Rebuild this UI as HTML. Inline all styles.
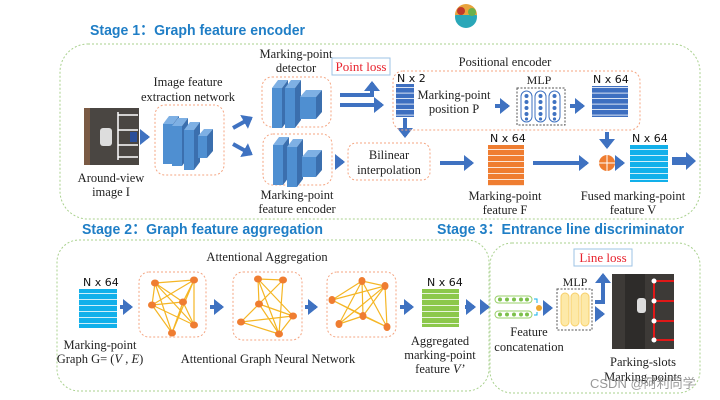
<!DOCTYPE html>
<html><head><meta charset="utf-8"><style>
html,body{margin:0;padding:0;background:#fff;}
svg{display:block;}
.t{font-family:"Liberation Serif",serif;font-size:12.5px;fill:#222;text-anchor:middle;}
.s{font-family:"Liberation Sans","Noto Sans CJK SC",sans-serif;font-size:14.5px;font-weight:bold;fill:#1f7ec6;}
.n{font-family:"DejaVu Sans","Liberation Sans",sans-serif;font-size:11px;fill:#111;}
</style></head><body>
<svg width="720" height="400" viewBox="0 0 720 400" xmlns="http://www.w3.org/2000/svg">
<defs>
<pattern id="pb" width="10" height="5.5" patternUnits="userSpaceOnUse"><rect width="10" height="5.5" fill="#3e6fc0"/><rect y="4.7" width="10" height="0.8" fill="#fff"/></pattern>
<pattern id="po" width="10" height="6" patternUnits="userSpaceOnUse"><rect width="10" height="6" fill="#ef7d31"/><rect y="5.2" width="10" height="0.8" fill="#fff"/></pattern>
<pattern id="pc" width="10" height="6" patternUnits="userSpaceOnUse"><rect width="10" height="6" fill="#12b0ea"/><rect y="5.2" width="10" height="0.8" fill="#fff"/></pattern>
<pattern id="pg" width="10" height="6" patternUnits="userSpaceOnUse"><rect width="10" height="6" fill="#8cc84b"/><rect y="5.2" width="10" height="0.8" fill="#fff"/></pattern>
<marker id="ah" markerWidth="4" markerHeight="4" refX="2" refY="2" orient="auto" markerUnits="strokeWidth"><path d="M0,0 L2.5,2 L0,4z" fill="#3f72c1"/></marker>
<g id="blk">
<polygon points="0,8 6,0 16,0 10,8" fill="#7eb0e4"/><polygon points="10,8 16,0 16,40 10,48" fill="#3b6fae"/><rect x="0" y="8" width="10" height="40" fill="#4f8fd1"/>
</g>
</defs>
<!-- titles -->
<text class="s" x="90" y="35" textLength="215" lengthAdjust="spacingAndGlyphs">Stage 1：Graph feature encoder</text>
<text class="s" x="82" y="234" textLength="241" lengthAdjust="spacingAndGlyphs">Stage 2：Graph feature aggregation</text>
<text class="s" x="437" y="234" textLength="247" lengthAdjust="spacingAndGlyphs">Stage 3：Entrance line discriminator</text>
<!-- logo -->
<circle cx="466" cy="17" r="11" fill="#2aa7b8"/><path d="M455,15 A11,11 0 0 1 477,15z" fill="#e8a33c"/><circle cx="461" cy="11" r="4" fill="#c0392b"/><circle cx="472" cy="12" r="4" fill="#6ab04c"/>
<!-- stage boxes -->
<rect x="60" y="44" width="640" height="175" rx="28" fill="none" stroke="#a9d18e" stroke-dasharray="2,2"/>
<rect x="57" y="240" width="432" height="151" rx="22" fill="none" stroke="#a9d18e" stroke-dasharray="2,2"/>
<rect x="490" y="243" width="210" height="150" rx="22" fill="none" stroke="#a9d18e" stroke-dasharray="2,2"/>
<!-- around view image -->
<rect x="84" y="108" width="55" height="57" fill="#4a4642"/><rect x="84" y="108" width="6" height="57" fill="#7a5a44"/>
<rect x="100" y="128" width="12" height="18" rx="3" fill="#ddd"/>
<g stroke="#fff" stroke-width="1.5"><line x1="118" y1="112" x2="118" y2="160"/><line x1="118" y1="115" x2="138" y2="115"/><line x1="118" y1="130" x2="138" y2="130"/><line x1="118" y1="145" x2="138" y2="145"/><line x1="118" y1="157" x2="138" y2="157"/></g>
<rect x="130" y="132" width="7" height="10" fill="#2a4f9a"/>
<text class="t" x="111" y="182">Around-view</text><text class="t" x="111" y="196">image I</text>
<g stroke="#3f72c1" stroke-width="4" fill="none" marker-end="url(#ah)">
<line x1="140" y1="137" x2="148" y2="137"/>
<line x1="233" y1="128" x2="251" y2="118"/><line x1="233" y1="144" x2="251" y2="154"/>
<line x1="336" y1="162" x2="343" y2="162"/>
<line x1="340" y1="105" x2="382" y2="105"/>
<polyline points="340,95 372,95 372,83"/>
<line x1="405" y1="118" x2="405" y2="136"/>
<line x1="495" y1="106" x2="508" y2="106"/><line x1="570" y1="106" x2="583" y2="106"/>
<line x1="440" y1="163" x2="472" y2="163"/><line x1="533" y1="163" x2="587" y2="163"/>
<line x1="607" y1="132" x2="607" y2="147"/><line x1="617" y1="163" x2="623" y2="163"/>
<line x1="120" y1="307" x2="131" y2="307"/><line x1="210" y1="307" x2="222" y2="307"/><line x1="305" y1="307" x2="316" y2="307"/><line x1="400" y1="307" x2="412" y2="307"/><line x1="465" y1="307" x2="474" y2="307"/>
<line x1="484" y1="307" x2="488" y2="307"/>
<line x1="543" y1="308" x2="551" y2="308"/><line x1="595" y1="314" x2="603" y2="314"/><polyline points="595,302 603,302 603,275"/>
</g>
<polygon points="672,157 686,157 686,152 696,161 686,170 686,165 672,165" fill="#3f72c1"/>
<!-- CNN -->
<rect x="155" y="105" width="69" height="70" rx="10" fill="none" stroke="#f4a582" stroke-dasharray="2,2"/>
<text class="t" x="188" y="86">Image feature</text><text class="t" x="188" y="101">extraction network</text>
<use href="#blk" x="163" y="116"/><use href="#blk" x="172" y="118"/><use href="#blk" x="184" y="122"/><polygon points="198,136 204,129 213,129 207,136" fill="#7eb0e4"/><rect x="198" y="136" width="9" height="22" fill="#4f8fd1"/><polygon points="207,136 213,129 213,151 207,158" fill="#3b6fae"/>
<rect x="262" y="77" width="69" height="50" rx="10" fill="none" stroke="#f4a582" stroke-dasharray="2,2"/>
<text class="t" x="296" y="58">Marking-point</text><text class="t" x="296" y="72">detector</text>
<use href="#blk" x="272" y="80"/><use href="#blk" x="285" y="80"/><polygon points="300,97 306,90 322,90 316,97" fill="#7eb0e4"/><rect x="300" y="97" width="16" height="22" fill="#4f8fd1"/><polygon points="316,97 322,90 322,112 316,119" fill="#3b6fae"/>
<rect x="263" y="134" width="69" height="51" rx="10" fill="none" stroke="#f4a582" stroke-dasharray="2,2"/>
<text class="t" x="297" y="199">Marking-point</text><text class="t" x="297" y="213">feature  encoder</text>
<use href="#blk" x="273" y="137"/><use href="#blk" x="287" y="139"/><polygon points="302,157 308,150 322,150 316,157" fill="#7eb0e4"/><rect x="302" y="157" width="14" height="20" fill="#4f8fd1"/><polygon points="316,157 322,150 322,170 316,177" fill="#3b6fae"/>
<!-- point loss -->
<rect x="332" y="58" width="58" height="17" fill="#fff" stroke="#9dc3e6"/>
<text class="t" x="361" y="71" style="fill:#e8232e;font-size:13px">Point loss</text>
<!-- bilinear -->
<rect x="348" y="143" width="82" height="37" rx="8" fill="none" stroke="#f4a582" stroke-dasharray="2,2"/>
<text class="t" x="389" y="159">Bilinear</text><text class="t" x="389" y="174">interpolation</text>
<!-- positional encoder -->
<rect x="393" y="71" width="247" height="59" rx="10" fill="none" stroke="#f4a582" stroke-dasharray="2,2"/>
<text class="t" x="505" y="66">Positional encoder</text>
<text class="n" x="397" y="82">N x 2</text>
<rect x="396" y="84" width="18" height="33" fill="url(#pb)"/>
<text class="t" x="454" y="99">Marking-point</text><text class="t" x="454" y="113">position P</text>
<text class="t" x="539" y="84" style="font-size:12px">MLP</text>
<rect x="517" y="88" width="48" height="37" fill="#fff" stroke="#555" stroke-dasharray="2,1.5"/>
<g fill="none" stroke="#3f72c1"><rect x="521" y="91" width="11" height="31" rx="5.5"/><rect x="535" y="91" width="11" height="31" rx="5.5"/><rect x="549" y="91" width="11" height="31" rx="5.5"/></g>
<g fill="#3f72c1"><circle cx="526.5" cy="96" r="2"/><circle cx="526.5" cy="102" r="2"/><circle cx="526.5" cy="108" r="2"/><circle cx="526.5" cy="114" r="2"/><circle cx="526.5" cy="119" r="1.6"/><circle cx="540.5" cy="96" r="2"/><circle cx="540.5" cy="102" r="2"/><circle cx="540.5" cy="108" r="2"/><circle cx="540.5" cy="114" r="2"/><circle cx="540.5" cy="119" r="1.6"/><circle cx="554.5" cy="96" r="2"/><circle cx="554.5" cy="102" r="2"/><circle cx="554.5" cy="108" r="2"/><circle cx="554.5" cy="114" r="2"/><circle cx="554.5" cy="119" r="1.6"/></g>
<text class="n" x="593" y="83">N x 64</text>
<rect x="592" y="86" width="36" height="31" fill="url(#pb)"/>
<text class="n" x="490" y="142">N x 64</text>
<rect x="488" y="145" width="36" height="41" fill="url(#po)"/>
<text class="t" x="505" y="200">Marking-point</text><text class="t" x="505" y="214">feature F</text>
<circle cx="607" cy="163" r="8" fill="#ef7d31"/><path d="M599,163 H615 M607,155 V171" stroke="#fff" stroke-width="1"/>
<text class="n" x="632" y="142">N x 64</text>
<rect x="630" y="145" width="38" height="37" fill="url(#pc)"/>
<text class="t" x="633" y="200">Fused marking-point</text><text class="t" x="633" y="214">feature V</text>
<!-- stage 2 -->
<text class="t" x="267" y="261">Attentional Aggregation</text>
<text class="n" x="83" y="286">N x 64</text>
<rect x="79" y="289" width="38" height="39" fill="url(#pc)"/>
<text class="t" x="100" y="349">Marking-point</text><text class="t" x="100" y="363">Graph  G= (<tspan font-style="italic">V</tspan> , <tspan font-style="italic">E</tspan>)</text>
<text class="t" x="268" y="363">Attentional Graph Neural Network</text>
<rect x="139" y="272" width="67" height="65" rx="10" fill="none" stroke="#f4a582" stroke-dasharray="2,2"/>
<rect x="233" y="272" width="69" height="68" rx="10" fill="none" stroke="#f4a582" stroke-dasharray="2,2"/>
<rect x="327" y="272" width="69" height="65" rx="10" fill="none" stroke="#f4a582" stroke-dasharray="2,2"/>
<g stroke="#f5b625" stroke-width="1.2">
<path d="M155,283 L194,280 M155,283 L152,305 M155,283 L183,302 M155,283 L194,325 M155,283 L172,333 M194,280 L152,305 M194,280 L183,302 M194,280 L194,325 M194,280 L172,333 M152,305 L183,302 M152,305 L194,325 M152,305 L172,333 M183,302 L194,325 M183,302 L172,333"/>
<path d="M258,279 L283,280 M258,279 L259,304 M258,279 L293,316 M258,279 L279,334 M283,280 L259,304 M283,280 L241,322 M283,280 L279,334 M259,304 L293,316 M259,304 L279,334 M241,322 L293,316 M241,322 L279,334 M241,322 L283,280 M293,316 L279,334"/>
<path d="M362,281 L385,286 M362,281 L332,300 M362,281 L363,316 M362,281 L387,327 M362,281 L339,324 M385,286 L332,300 M385,286 L339,324 M385,286 L387,327 M385,286 L363,316 M332,300 L363,316 M332,300 L387,327 M339,324 L363,316 M363,316 L387,327"/>
</g>
<g fill="#ef7d31">
<ellipse cx="155" cy="283" rx="4" ry="3.5"/><ellipse cx="194" cy="280" rx="4" ry="3.5"/><ellipse cx="152" cy="305" rx="4" ry="3.5"/><ellipse cx="183" cy="302" rx="4" ry="3.5"/><ellipse cx="194" cy="325" rx="4" ry="3.5"/><ellipse cx="172" cy="333" rx="4" ry="3.5"/>
<ellipse cx="258" cy="279" rx="4" ry="3.5"/><ellipse cx="283" cy="280" rx="4" ry="3.5"/><ellipse cx="259" cy="304" rx="4" ry="3.5"/><ellipse cx="241" cy="322" rx="4" ry="3.5"/><ellipse cx="293" cy="316" rx="4" ry="3.5"/><ellipse cx="279" cy="334" rx="4" ry="3.5"/>
<ellipse cx="362" cy="281" rx="3.5" ry="4"/><ellipse cx="385" cy="286" rx="3.5" ry="4"/><ellipse cx="332" cy="300" rx="3.5" ry="4"/><ellipse cx="363" cy="316" rx="3.5" ry="4"/><ellipse cx="339" cy="324" rx="3.5" ry="4"/><ellipse cx="387" cy="327" rx="3.5" ry="4"/>
</g>
<text class="n" x="427" y="286">N x 64</text>
<rect x="422" y="289" width="37" height="38" fill="url(#pg)"/>
<text class="t" x="440" y="345">Aggregated</text><text class="t" x="440" y="359">marking-point</text><text class="t" x="440" y="373">feature <tspan font-style="italic">V’</tspan></text>
<!-- stage 3 -->
<rect x="495" y="296" width="37" height="7" rx="3.5" fill="none" stroke="#9ad06a"/>
<rect x="495" y="311" width="37" height="7" rx="3.5" fill="none" stroke="#9ad06a"/>
<g fill="#7cc04a"><circle cx="500" cy="299.5" r="2"/><circle cx="507" cy="299.5" r="2"/><circle cx="514" cy="299.5" r="2"/><circle cx="521" cy="299.5" r="2"/><circle cx="527" cy="299.5" r="2"/><circle cx="500" cy="314.5" r="2"/><circle cx="507" cy="314.5" r="2"/><circle cx="514" cy="314.5" r="2"/><circle cx="521" cy="314.5" r="2"/><circle cx="527" cy="314.5" r="2"/></g>
<path d="M534,299 H537 V303 M534,315 H537 V312" stroke="#12b0ea" fill="none"/>
<circle cx="539" cy="308" r="3" fill="#f0a830"/>
<text class="t" x="529" y="336">Feature</text><text class="t" x="529" y="351">concatenation</text>
<text class="t" x="575" y="286" style="font-size:12px">MLP</text>
<rect x="557" y="289" width="35" height="41" fill="#fff" stroke="#555" stroke-dasharray="2,1.5"/>
<g fill="#fde9a8" stroke="#f7cf6a"><rect x="561" y="293" width="8" height="33" rx="4"/><rect x="571" y="293" width="8" height="33" rx="4"/><rect x="581" y="293" width="8" height="33" rx="4"/></g>
<rect x="574" y="249" width="58" height="17" fill="#fff" stroke="#9dc3e6"/>
<text class="t" x="603" y="262" style="fill:#e8232e;font-size:13px">Line loss</text>
<rect x="612" y="274" width="62" height="75" fill="#3d3a37"/><rect x="625" y="274" width="20" height="75" fill="#2e2c2a"/>
<rect x="637" y="298" width="9" height="15" rx="3" fill="#ddd"/>
<g stroke="#e01818" stroke-width="2"><line x1="654" y1="281" x2="654" y2="340"/><line x1="654" y1="281" x2="674" y2="281"/><line x1="654" y1="301" x2="674" y2="301"/><line x1="654" y1="321" x2="674" y2="321"/><line x1="654" y1="340" x2="674" y2="340"/></g>
<g fill="#fff"><circle cx="654" cy="281" r="2.5"/><circle cx="654" cy="301" r="2.5"/><circle cx="654" cy="321" r="2.5"/><circle cx="654" cy="340" r="2.5"/></g>
<text class="t" x="643" y="366">Parking-slots</text><text class="t" x="643" y="381">Marking-points</text>
<text x="590" y="388" style="font-family:'Liberation Sans','Noto Sans CJK SC',sans-serif;font-size:13px;fill:#999">CSDN @阿利同学</text>
</svg>
</body></html>
